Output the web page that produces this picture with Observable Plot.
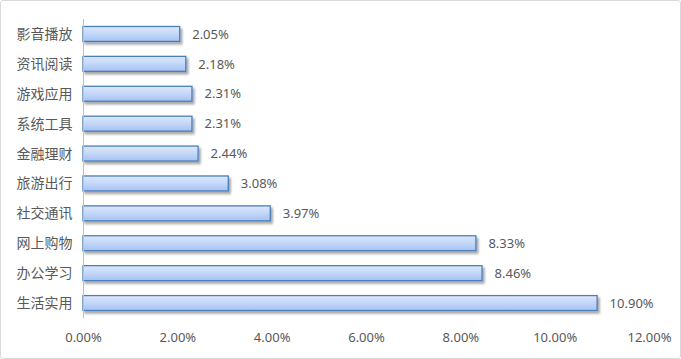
<!DOCTYPE html>
<html>
<head>
<meta charset="utf-8">
<script src="https://cdn.jsdelivr.net/npm/d3@7"></script>
<script src="https://cdn.jsdelivr.net/npm/@observablehq/plot@0.6"></script>
<style>
  html, body { margin: 0; padding: 0; background: #fff; }
  #wrap { position: relative; width: 681px; height: 359px; overflow: hidden; }
  #border { position: absolute; left: 0; top: 0; width: 681px; height: 359px; box-sizing: border-box;
            border: 1px solid #d9d9d9; border-radius: 3px; pointer-events: none; }
  svg { position: absolute; left: 0; top: 0; }
</style>
</head>
<body>
<div id="wrap"><div id="border"></div></div>
<script>
const categories = ["影音播放", "资讯阅读", "游戏应用", "系统工具", "金融理财", "旅游出行", "社交通讯", "网上购物", "办公学习", "生活实用"];
const values = [2.05, 2.18, 2.31, 2.31, 2.44, 3.08, 3.97, 8.33, 8.46, 10.90];
const xTicks = [0, 2, 4, 6, 8, 10, 12];

const data = categories.map((c, i) => ({category: c, value: values[i]}));
const fmt = v => v.toFixed(2) + "%";

const chart = Plot.plot({
  width: 681,
  height: 359,
  marginLeft: 83,
  marginRight: 32,
  marginTop: 19,
  marginBottom: 41,
  style: {fontFamily: "'Noto Sans', 'Noto Sans CJK SC', sans-serif", fontSize: "13px", color: "#595959", background: "transparent"},
  x: {domain: [0, 12], ticks: xTicks, tickFormat: fmt, label: null, tickSize: 0, tickPadding: 13},
  y: {domain: categories, label: null, tickSize: 0, tickPadding: 11, paddingInner: 0.5, paddingOuter: 0.25, round: false},
  marks: [
    Plot.axisY({tickSize: 0, tickPadding: 11, fontSize: 14, fontFamily: "'Noto Sans CJK SC', sans-serif", fill: "#595959"}),
    Plot.axisX({ticks: xTicks, tickFormat: fmt, tickSize: 0, tickPadding: 14, fill: "#595959"}),
    Plot.barX(data, {x: "value", y: "category", fill: "url(#barGrad)", stroke: "#4a7ebb", strokeWidth: 1.3,
      render: (index, scales, values, dims, context, next) => {
        const g = next(index, scales, values, dims, context);
        g.setAttribute("filter", "url(#barShadow)");
        return g;
      }}),
    Plot.ruleX([0], {stroke: "#bfbfbf", strokeWidth: 1}),
    Plot.text(data, {x: "value", y: "category", text: d => fmt(d.value), dx: 12, textAnchor: "start", fill: "#595959", fontSize: 13})
  ]
});

const svg = d3.select(chart);
const defs = svg.insert("defs", ":first-child");
const grad = defs.append("linearGradient").attr("id", "barGrad").attr("x1", 0).attr("y1", 0).attr("x2", 0).attr("y2", 1);
grad.append("stop").attr("offset", "0%").attr("stop-color", "#dde9fc");
grad.append("stop").attr("offset", "50%").attr("stop-color", "#c3d7f8");
grad.append("stop").attr("offset", "100%").attr("stop-color", "#a5c2f2");
const f = defs.append("filter").attr("id", "barShadow").attr("x", "-10%").attr("y", "-30%").attr("width", "130%").attr("height", "180%");
f.append("feDropShadow").attr("dx", 2).attr("dy", 2.5).attr("stdDeviation", 1.2).attr("flood-color", "#000").attr("flood-opacity", 0.35);

document.getElementById("wrap").insertBefore(chart, document.getElementById("border"));
</script>
</body>
</html>
